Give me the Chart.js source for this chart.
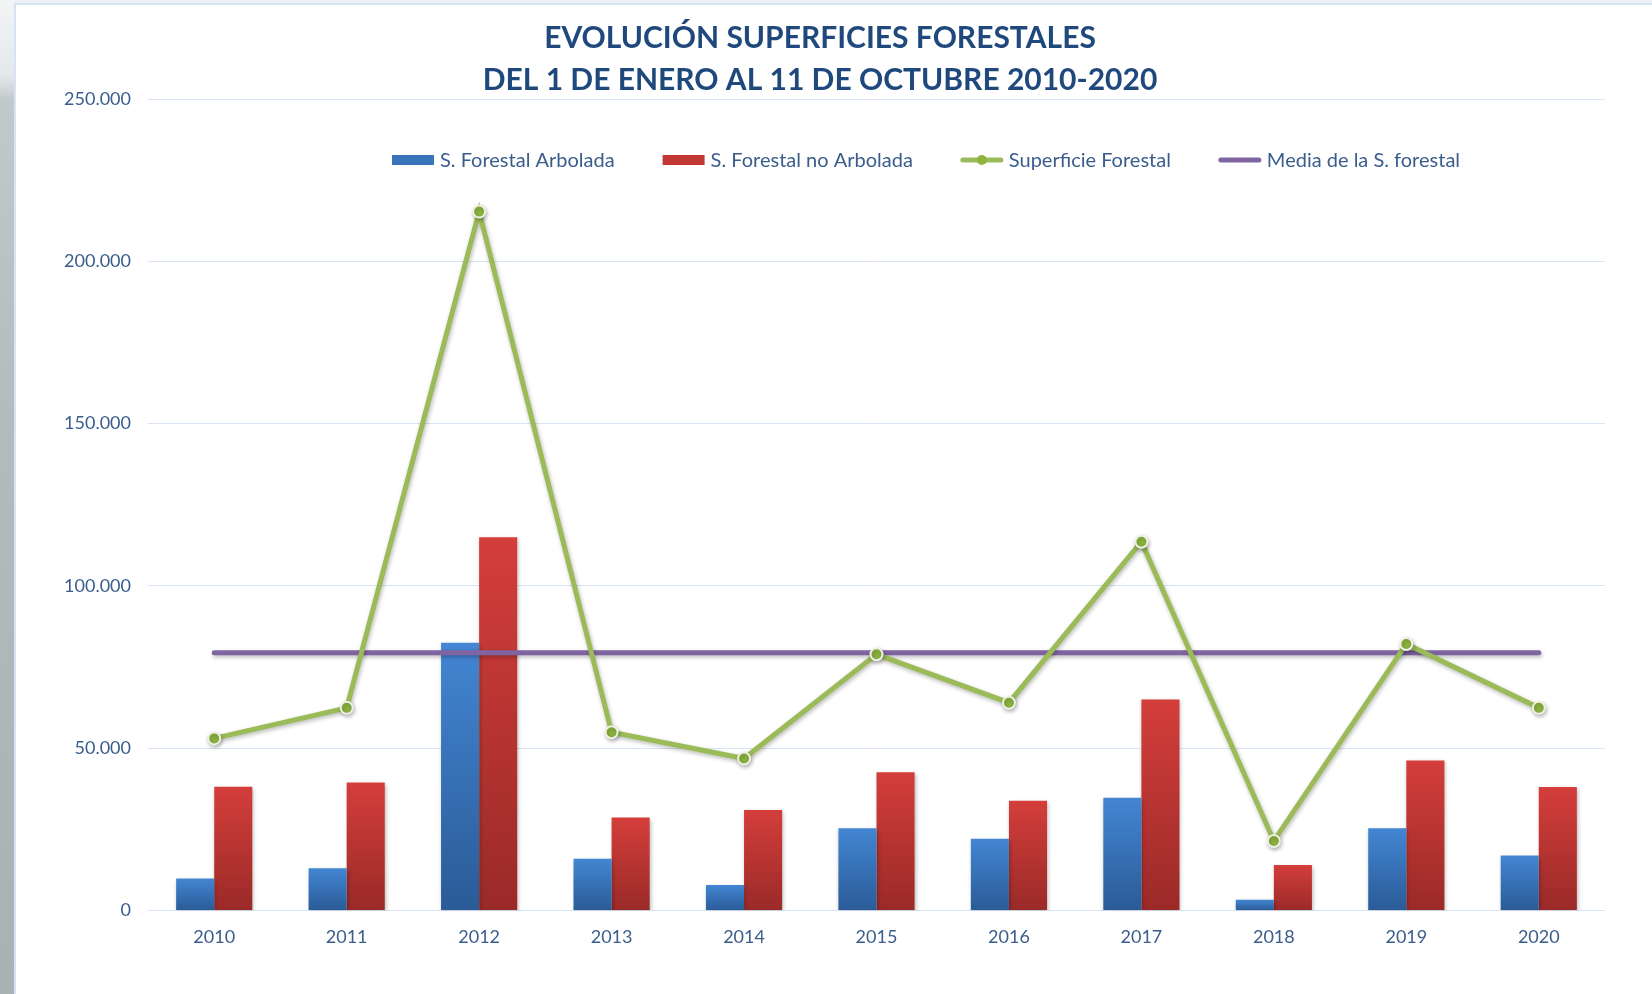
<!DOCTYPE html>
<html lang="es">
<head>
<meta charset="utf-8">
<title>Evolución superficies forestales 2010-2020</title>
<script src="https://cdn.jsdelivr.net/npm/chart.js@4.4.1/dist/chart.umd.min.js"></script>
<style>
  html, body { margin: 0; padding: 0; }
  body { width: 1652px; height: 994px; position: relative; overflow: hidden; background: #eef2f6; }
  #strip {
    position: absolute; left: 0; top: 0; width: 14px; height: 994px;
    background: linear-gradient(to bottom, #f3f5f7 0, #e3e8eb 75px, #c2c9cc 100px, #b3bbbe 420px, #aab1b2 994px);
  }
  #frame {
    position: absolute; left: 14px; top: 3px; width: 1636px; height: 989px;
    background: #fff; border-left: 2px solid #d6e3f3; border-top: 2px solid #d6e3f3;
  }
  #chart { position: absolute; left: 0; top: 0; }
</style>
</head>
<body>
<div id="strip"></div>
<div id="frame"></div>
<canvas id="chart" width="1652" height="994"></canvas>
<script>
// values (hectares)
const years = ['2010', '2011', '2012', '2013', '2014', '2015', '2016', '2017', '2018', '2019', '2020'];
const arbolada = [9800, 13000, 82500, 15900, 7800, 25300, 22100, 34700, 3300, 25300, 16900];
const noArbolada = [38100, 39400, 115000, 28600, 30900, 42600, 33800, 65000, 14000, 46200, 38000];
const superficie = [53000, 62400, 215300, 54900, 46800, 78900, 64000, 113600, 21400, 82100, 62400];
const media = [79400, 79400, 79400, 79400, 79400, 79400, 79400, 79400, 79400, 79400, 79400];

const titleLines = ['EVOLUCIÓN SUPERFICIES FORESTALES', 'DEL 1 DE ENERO AL 11 DE OCTUBRE 2010-2020'];
const yMax = 250000;
const yStep = 50000;

const TEXT = '#3a5d8c';
const GRID = '#d9e5f4';
const FONT = 'Lato';

function thousands(v) {
  return String(v).replace(/\B(?=(\d{3})+(?!\d))/g, '.');
}

// Excel-like vertical gradient, one per bar
function barGradient(top, bottom) {
  return (c) => {
    const chart = c.chart;
    const y = chart.scales && chart.scales.y;
    if (!chart.chartArea || !y || c.raw == null) return top;
    const y0 = y.getPixelForValue(0);
    const y1 = y.getPixelForValue(c.raw);
    if (!isFinite(y0) || !isFinite(y1) || y0 === y1) return top;
    const g = chart.ctx.createLinearGradient(0, y1, 0, y0);
    g.addColorStop(0, top);
    g.addColorStop(1, bottom);
    return g;
  };
}

const softShadow = {
  id: 'softShadow',
  beforeDatasetDraw(chart, args) {
    if (!chart.data.datasets[args.index].shadow) return;
    const ctx = chart.ctx;
    ctx.save();
    ctx.shadowColor = 'rgba(0, 0, 0, 0.28)';
    ctx.shadowBlur = 4;
    ctx.shadowOffsetX = 1;
    ctx.shadowOffsetY = 2;
  },
  afterDatasetDraw(chart, args) {
    if (chart.data.datasets[args.index].shadow) chart.ctx.restore();
  }
};

// legend sits inside the plot area like in the Excel original
const overlayLegend = {
  id: 'overlayLegend',
  afterDraw(chart, args, opts) {
    const ctx = chart.ctx;
    const items = opts.order.map((i) => chart.data.datasets[i]);
    ctx.save();
    ctx.font = `${opts.size}px ${FONT}`;
    ctx.textBaseline = 'middle';
    const widths = items.map((ds) => opts.swatch + opts.gap + ctx.measureText(ds.label).width);
    const total = widths.reduce((a, b) => a + b, 0) + opts.spacing * (items.length - 1);
    let x = opts.centerX - total / 2;
    const y = opts.y;
    items.forEach((ds, k) => {
      if (ds.type === 'bar') {
        ctx.fillStyle = ds.legendColor;
        ctx.fillRect(x, y - 5, opts.swatch, 10);
      } else {
        ctx.strokeStyle = ds.borderColor;
        ctx.lineWidth = 5;
        ctx.lineCap = 'round';
        ctx.beginPath();
        ctx.moveTo(x + 2, y);
        ctx.lineTo(x + opts.swatch - 2, y);
        ctx.stroke();
        if (ds.pointRadius) {
          ctx.fillStyle = ds.pointBackgroundColor;
          ctx.beginPath();
          ctx.arc(x + opts.swatch / 2, y, 5, 0, Math.PI * 2);
          ctx.fill();
        }
      }
      ctx.fillStyle = TEXT;
      ctx.fillText(ds.label, x + opts.swatch + opts.gap, y + 1);
      x += widths[k] + opts.spacing;
    });
    ctx.restore();
  }
};

new Chart(document.getElementById('chart'), {
  data: {
    labels: years,
    datasets: [
      {
        type: 'line',
        label: 'Superficie Forestal',
        data: superficie,
        borderColor: '#9bbb59',
        borderWidth: 5,
        tension: 0,
        pointRadius: 6,
        pointBackgroundColor: '#8cb43f',
        pointBorderColor: '#eef2e4',
        pointBorderWidth: 2,
        shadow: true,
        order: 1,
      },
      {
        type: 'line',
        label: 'Media de la S. forestal',
        data: media,
        borderColor: '#8064a2',
        borderWidth: 5,
        borderCapStyle: 'round',
        pointRadius: 0,
        shadow: true,
        order: 2,
      },
      {
        type: 'bar',
        label: 'S. Forestal Arbolada',
        data: arbolada,
        backgroundColor: barGradient('#4386d3', '#2a5b97'),
        legendColor: '#3a74bd',
        barPercentage: 1,
        categoryPercentage: 0.575,
        shadow: true,
        order: 3,
      },
      {
        type: 'bar',
        label: 'S. Forestal no Arbolada',
        data: noArbolada,
        backgroundColor: barGradient('#d43e3b', '#9a2a28'),
        legendColor: '#c13835',
        barPercentage: 1,
        categoryPercentage: 0.575,
        shadow: true,
        order: 3,
      },
    ],
  },
  options: {
    responsive: false,
    animation: false,
    layout: { padding: { left: 35, right: 47, top: 0, bottom: 38 } },
    scales: {
      x: {
        offset: true,
        grid: { display: false },
        border: { display: false },
        ticks: { color: TEXT, font: { family: FONT, size: 18 }, padding: 8 },
      },
      y: {
        min: 0,
        max: yMax,
        grid: { color: GRID, lineWidth: 1, drawTicks: false },
        border: { display: false },
        ticks: { stepSize: yStep, color: TEXT, font: { family: FONT, size: 18 }, padding: 17, callback: (v) => thousands(v) },
        afterFit: (s) => { s.width = 113; },
      },
    },
    plugins: {
      legend: { display: false },
      tooltip: { enabled: false },
      title: {
        display: true,
        text: titleLines,
        color: '#1f497d',
        font: { family: FONT, size: 30, weight: 'bold', lineHeight: 1.4 },
        padding: { top: 17, bottom: -2 },
      },
      overlayLegend: { order: [2, 3, 0, 1], size: 20, swatch: 42, gap: 6, spacing: 48, centerX: 926, y: 160 },
    },
  },
  plugins: [softShadow, overlayLegend],
});
</script>
</body>
</html>
